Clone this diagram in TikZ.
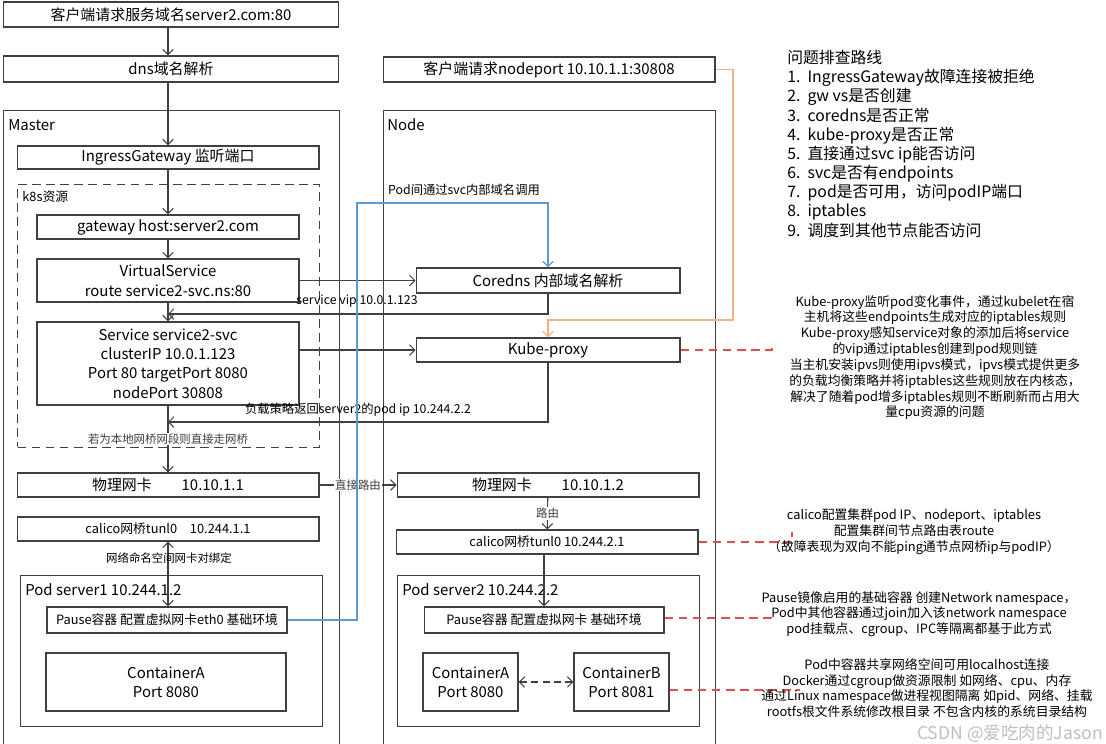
\documentclass[tikz,border=0pt]{standalone}
\usepackage{fontspec}
\setmainfont{Noto Sans CJK SC}
\usetikzlibrary{positioning,arrows.meta}
\definecolor{LineGray}{HTML}{404040}
\definecolor{WireBlue}{HTML}{5B9BD5}
\definecolor{WireOrange}{HTML}{F4B183}
\definecolor{NoteRed}{HTML}{E05050}
\tikzset{
  box/.style={draw=LineGray, line width=0.6pt, fill=white, align=center,
              inner sep=1pt, font=\fontsize{8.5}{11}\selectfont},
  smallbox/.style={box, font=\fontsize{7.3}{9}\selectfont},
  frame/.style={draw=LineGray, line width=0.6pt, anchor=north west, inner sep=0pt},
  title/.style={anchor=west, inner sep=0pt, font=\fontsize{8.5}{11}\selectfont},
  flow/.style={-{Straight Barb[length=3pt,width=6pt]}, line width=0.6pt, LineGray},
  twoway/.style={flow, {Straight Barb[length=3pt,width=6pt]}-{Straight Barb[length=3pt,width=6pt]}},
  bluewire/.style={flow, WireBlue, line width=0.7pt},
  orangewire/.style={flow, WireOrange, line width=0.7pt},
  callout/.style={NoteRed, dash pattern=on 5pt off 3pt, line width=0.7pt},
  lbl/.style={inner sep=0.5pt, font=\fontsize{6.5}{8}\selectfont},
  note/.style={align=center, inner sep=0pt, font=\fontsize{7.3}{9}\selectfont},
}
\begin{document}
\begin{tikzpicture}[x=0.02cm, y=-0.02cm]
  \useasboundingbox (0,0) rectangle (1106,744);
  \node[frame, minimum width=6.72cm, minimum height=12.8cm] (master) at (3,110) {};
  \node[frame, minimum width=6.64cm, minimum height=12.8cm] (worker) at (383,110) {};
  \node[frame, dash pattern=on 5pt off 3pt, minimum width=6.04cm, minimum height=5.26cm] (k8s) at (17,184) {};
  \node[frame, minimum width=6.04cm, minimum height=3.02cm] (pod1) at (20,575) {};
  \node[frame, minimum width=6.04cm, minimum height=3.02cm] (pod2) at (397,575) {};
  \node[title] (mastertitle) at (8,125) {Master};
  \node[title] (workertitle) at (387,125) {Node};
  \node[title, font=\fontsize{7.3}{9}\selectfont] (k8stitle) at (22,197) {k8s资源};
  \node[title] (pod1title) at (25,590) {Pod server1 10.244.1.2};
  \node[title] (pod2title) at (402,590) {Pod server2 10.244.2.2};

  \node[box, minimum width=6.72cm, minimum height=0.5cm] (client) at (171,14.5) {客户端请求服务域名server2.com:80};
  \node[box, minimum width=6.72cm, minimum height=0.52cm] (dns) at (171,69) {dns域名解析};
  \node[box, minimum width=6.64cm, minimum height=0.5cm] (nodeport) at (549,69.5) {客户端请求nodeport 10.10.1.1:30808};
  \node[box, minimum width=6.04cm, minimum height=0.46cm] (ingress) at (168,157.5) {IngressGateway 监听端口};
  \node[box, minimum width=5.24cm, minimum height=0.48cm] (gw) at (168,227) {gateway host:server2.com};
  \node[box, minimum width=5.24cm, minimum height=0.86cm] (vs) at (168,280.5) {VirtualService\\route service2-svc.ns:80};
  \node[box, minimum width=5.24cm, minimum height=1.66cm] (svc) at (168,363.5) {Service service2-svc\\clusterIP 10.0.1.123\\Port 80 targetPort 8080\\nodePort 30808};
  \node[box, minimum width=6.04cm, minimum height=0.48cm] (nic1) at (168,485) {物理网卡\hspace{2em}10.10.1.1};
  \node[smallbox, minimum width=6.04cm, minimum height=0.48cm] (calico1) at (168,529) {calico网桥tunl0\hspace{1em}10.244.1.1};
  \node[smallbox, minimum width=4.8cm, minimum height=0.52cm] (pause1) at (167,620) {Pause容器 配置虚拟网卡eth0 基础环境};
  \node[box, minimum width=4.8cm, minimum height=1.16cm] (ctra1) at (166,682) {ContainerA\\Port 8080};
  \node[box, minimum width=5.28cm, minimum height=0.5cm] (coredns) at (548,280.5) {Coredns 内部域名解析};
  \node[box, minimum width=5.28cm, minimum height=0.48cm] (kube) at (548,350) {Kube-proxy};
  \node[box, minimum width=6.04cm, minimum height=0.48cm] (nic2) at (548,485) {物理网卡\hspace{2em}10.10.1.2};
  \node[smallbox, minimum width=6.04cm, minimum height=0.48cm] (calico2) at (547,542) {calico网桥tunl0 10.244.2.1};
  \node[smallbox, minimum width=4.8cm, minimum height=0.52cm] (pause2) at (544,620) {Pause容器 配置虚拟网卡 基础环境};
  \node[box, minimum width=1.9cm, minimum height=1.16cm] (ctra2) at (470.5,682) {ContainerA\\Port 8080};
  \node[box, minimum width=1.9cm, minimum height=1.16cm] (ctrb) at (621.5,682) {ContainerB\\Port 8081};

  \coordinate (vipend) at (168,314);
  \coordinate (podipend) at (168,422);
  \coordinate (bluebend) at (357,203);
  \coordinate (orangebend) at (733,320);
  \draw[flow] (client.south -| ingress) -- (dns.north -| ingress);
  \draw[flow] (dns.south -| ingress) -- (ingress);
  \draw[flow] (ingress) -- (gw);
  \draw[flow] (gw) -- (vs);
  \draw[flow] (vs) -- (svc);
  \draw[flow] (svc) -- node[lbl, fill=white] (localnote) {若为本地网桥网段则直接走网桥} (nic1);
  \draw[flow] (vs) -- (coredns);
  \draw[flow] (svc.east |- kube) -- (kube.west);
  \draw[flow] (coredns.south) |- (vipend);
  \draw[flow] (kube.south) |- (podipend);
  \node[lbl, font=\fontsize{7}{8}\selectfont] (viplabel) at (357,301) {service vip 10.0.1.123};
  \node[lbl, font=\fontsize{7}{8}\selectfont] (podiplabel) at (358,410) {负载策略返回server2的pod ip 10.244.2.2};
  \draw[flow] (nic1) -- node[lbl, fill=white] (directlabel) {直接路由} (nic2);
  \draw[flow] (nic2) -- node[lbl, fill=white] (routelabel) {路由} (calico2);
  \draw[flow] (calico2.south -| pause2) -- (pause2);
  \draw[twoway] (calico1.south) -- (calico1.south |- pause1.north);
  \node[lbl] (pairlabel) at (169,558) {网络命名空间网卡对绑定};
  \draw[twoway, dash pattern=on 4pt off 2.5pt] (ctra2) -- (ctrb);
  \draw[bluewire] (pause1.east) -| (bluebend) -| (coredns.north);
  \node[lbl, anchor=west, font=\fontsize{7}{8}\selectfont] (bluelabel) at (387,190) {Pod间通过svc内部域名调用};
  \draw[orangewire] (nodeport.east) -| (orangebend) -| (kube.north);

  \coordinate (kubeend) at (772,350);
  \coordinate (calicoend) at (792,542);
  \coordinate (pauseend) at (775,618);
  \coordinate (ctrend) at (800,690);
  \draw[callout] (kube.east) -- (kubeend) -- ++(0,-6);
  \draw[callout] (calico2.east) -- (calicoend) -- ++(0,-10);
  \draw[callout] (pause2.east |- pauseend) -- (pauseend);
  \draw[callout] (ctrb.east |- ctrend) -- (ctrend);

  \node[note, anchor=north west, align=left, font=\fontsize{9}{10.9}\selectfont] (checklist) at (787,50)
    {问题排查路线\\1.\ \ IngressGateway故障连接被拒绝\\2.\ \ gw vs是否创建\\3.\ \ coredns是否正常\\
     4.\ \ kube-proxy是否正常\\5.\ \ 直接通过svc ip能否访问\\6.\ \ svc是否有endpoints\\
     7.\ \ pod是否可用，访问podIP端口\\8.\ \ iptables\\9.\ \ 调度到其他节点能否访问};
  \node[note] (kubetext) at (935,357.5)
    {Kube-proxy监听pod变化事件，通过kubelet在宿\\主机将这些endpoints生成对应的iptables规则\\
     Kube-proxy感知service对象的添加后将service\\的vip通过iptables创建到pod规则链\\
     当主机安装ipvs则使用ipvs模式，ipvs模式提供更多\\的负载均衡策略并将iptables这些规则放在内核态，\\
     解决了随着pod增多iptables规则不断刷新而占用大\\量cpu资源的问题};
  \node[note] (calicotext) at (914,532)
    {calico配置集群pod IP、nodeport、iptables\\配置集群间节点路由表route\\（故障表现为双向不能ping通节点网桥ip与podIP）};
  \node[note] (pausetext) at (919,614)
    {Pause镜像启用的基础容器 创建Network namespace，\\Pod中其他容器通过join加入该network namespace\\pod挂载点、cgroup、IPC等隔离都基于此方式};
  \node[note] (ctrtext) at (927,688)
    {Pod中容器共享网络空间可用localhost连接\\Docker通过cgroup做资源限制 如网络、cpu、内存\\
     通过Linux namespace做进程视图隔离 如pid、网络、挂载\\rootfs根文件系统修改根目录 不包含内核的系统目录结构};
  \node[text=black!25, inner sep=0pt, font=\fontsize{10}{10}\selectfont] (watermark) at (1010,734) {CSDN @爱吃肉的Jason};
\end{tikzpicture}
\end{document}
